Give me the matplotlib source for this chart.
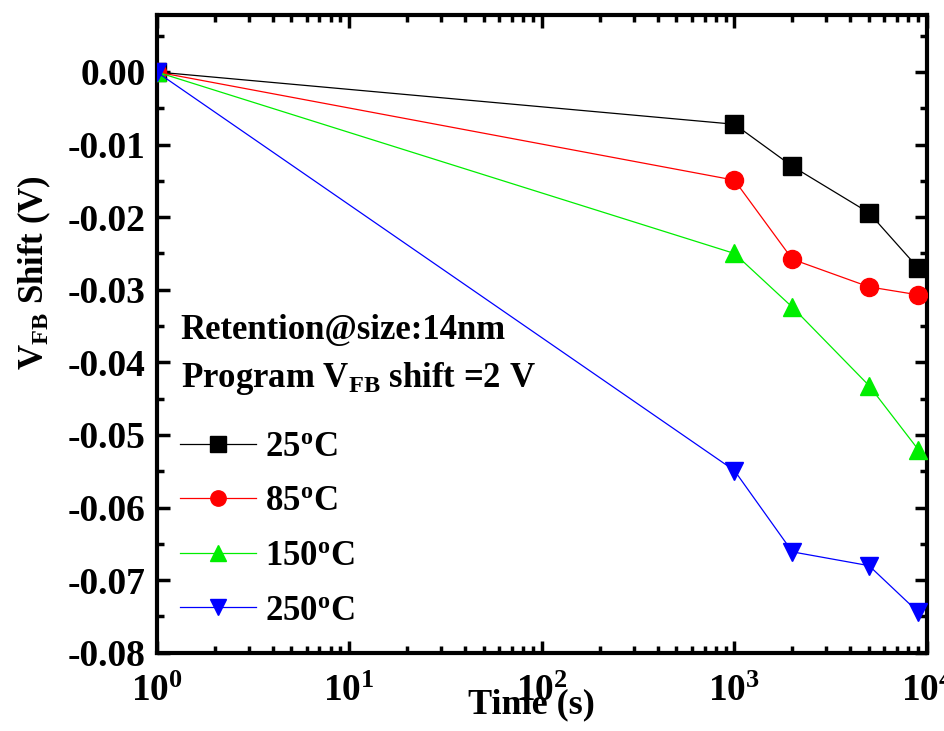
import numpy as np
import matplotlib
matplotlib.use('Agg')
import matplotlib.pyplot as plt
from matplotlib.ticker import FixedLocator, LogLocator, MultipleLocator, NullFormatter

plt.rcParams['font.family'] = ['Liberation Serif', 'DejaVu Serif']
plt.rcParams['font.weight'] = 'bold'
plt.rcParams['mathtext.fontset'] = 'custom'
plt.rcParams['mathtext.rm'] = 'Liberation Serif:bold'
plt.rcParams['mathtext.it'] = 'Liberation Serif:bold'
plt.rcParams['mathtext.bf'] = 'Liberation Serif:bold'

# retention time (s) and flat-band voltage shift (V)
time_s = [1, 1000, 2000, 5000, 9000]
shift_25 = [0.0, -0.0072, -0.0130, -0.0194, -0.0270]
shift_85 = [0.0, -0.0149, -0.0258, -0.0296, -0.0307]
shift_150 = [0.0, -0.0250, -0.0324, -0.0432, -0.0520]
shift_250 = [0.0, -0.0549, -0.0661, -0.0680, -0.0744]

labels = [r'25$^\mathrm{o}$C', r'85$^\mathrm{o}$C', r'150$^\mathrm{o}$C', r'250$^\mathrm{o}$C']
colors = ['black', 'red', '#00ee00', 'blue']
markers = ['s', 'o', '^', 'v']
series = [shift_25, shift_85, shift_150, shift_250]

y_ticks = np.arange(-0.08, 0.001, 0.01)

fig = plt.figure(figsize=(9.44, 7.31), dpi=100)
ax = fig.add_axes([0.166, 0.107, 0.816, 0.872])

for y, c, m, lab in zip(series, colors, markers, labels):
    ax.plot(time_s, y, color=c, marker=m, markersize=13, linewidth=0.9,
            markeredgecolor=c, label=lab, zorder=3)

ax.set_xscale('log')
ax.set_xlim(1, 1e4)
ax.set_ylim(-0.08, 0.0078)

ax.xaxis.set_major_locator(FixedLocator([1, 10, 100, 1000, 10000]))
ax.set_xticklabels([r'10$^{0}$', r'10$^{1}$', r'10$^{2}$', r'10$^{3}$', r'10$^{4}$'])
ax.xaxis.set_minor_locator(LogLocator(base=10, subs=np.arange(2, 10)))
ax.xaxis.set_minor_formatter(NullFormatter())
ax.yaxis.set_minor_locator(MultipleLocator(0.005))
ax.set_yticks(y_ticks)
ax.set_yticklabels(['%.2f' % v if abs(v) > 1e-9 else '0.00' for v in y_ticks])

for s in ax.spines.values():
    s.set_linewidth(3)
ax.tick_params(which='both', direction='in', top=True, right=True, width=2.5)
ax.tick_params(which='major', length=9, labelsize=27, pad=8)
ax.tick_params(axis='x', which='major', pad=15)
ax.tick_params(which='minor', length=5)

ax.set_xlabel('Time (s)', fontsize=26, fontweight='bold')
ax.xaxis.set_label_coords(0.487, -0.056)
ax.set_ylabel(r'V$_\mathrm{FB}$ Shift (V)', fontsize=25, fontweight='bold')
ax.yaxis.set_label_coords(-0.135, 0.597)

ax.text(0.031, 0.505, 'Retention@size:14nm', transform=ax.transAxes,
        fontsize=25, fontweight='bold', va='center', ha='left')
ax.text(0.031, 0.43, r'Program V$_\mathrm{FB}$ shift =2 V', transform=ax.transAxes,
        fontsize=25, fontweight='bold', va='center', ha='left')

ax.legend(loc='upper left', bbox_to_anchor=(0.03, 0.348), frameon=False,
          fontsize=25, handlelength=2.2, handletextpad=0.25, labelspacing=0.62,
          borderpad=0, borderaxespad=0, markerscale=0.85)

fig.savefig('out.png', dpi=100)
